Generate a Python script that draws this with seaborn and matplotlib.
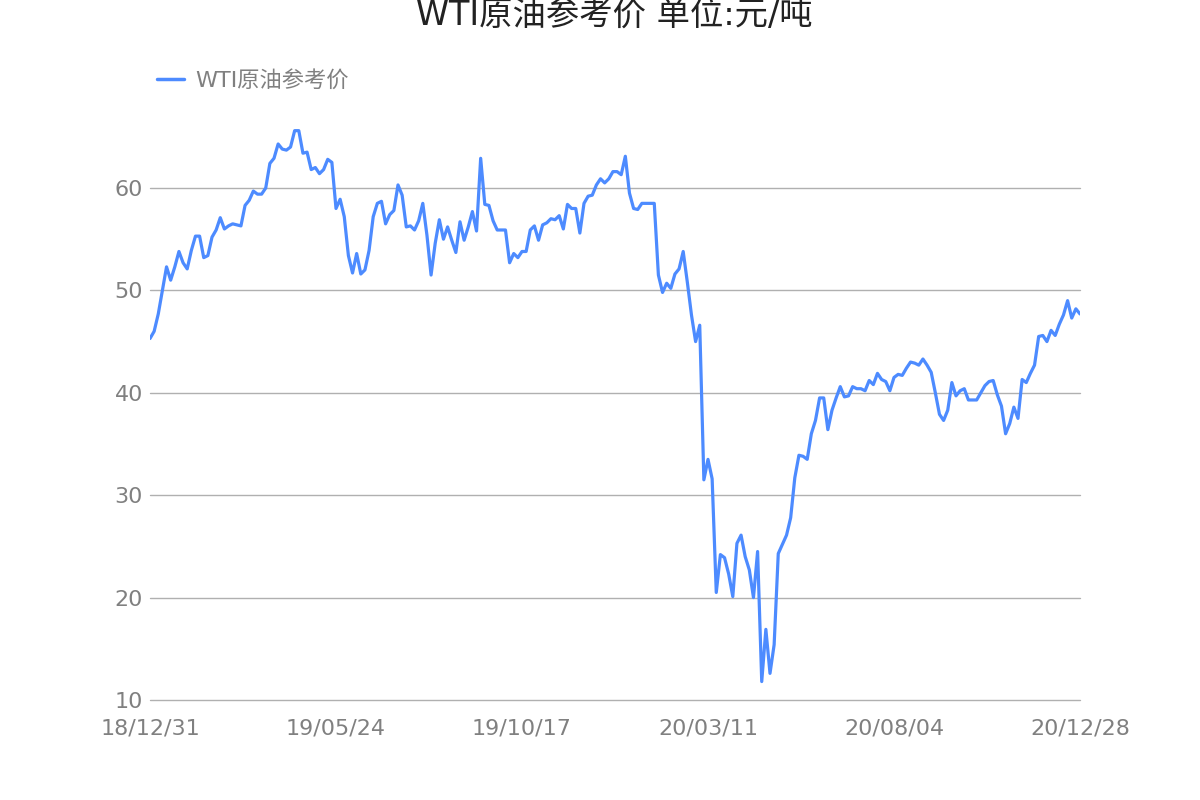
import matplotlib
matplotlib.use("Agg")
import matplotlib.pyplot as plt
import seaborn as sns
import pandas as pd

# WTI reference price (yuan/ton), sampled evenly along the category axis
values = [
    45.3, 46.0, 47.7, 50.0, 52.3, 51.0, 52.3, 53.8, 52.7, 52.1,
    53.9, 55.3, 55.3, 53.2, 53.4, 55.2, 55.9, 57.1, 56.0, 56.3,
    56.5, 56.4, 56.3, 58.3, 58.8, 59.7, 59.4, 59.4, 60.0, 62.4,
    62.9, 64.3, 63.8, 63.7, 64.0, 65.6, 65.6, 63.4, 63.5, 61.8,
    62.0, 61.4, 61.8, 62.8, 62.5, 58.0, 58.9, 57.2, 53.4, 51.7,
    53.6, 51.6, 52.0, 53.9, 57.2, 58.5, 58.7, 56.5, 57.4, 57.8,
    60.3, 59.3, 56.2, 56.3, 55.9, 56.8, 58.5, 55.4, 51.5, 54.6,
    56.9, 55.0, 56.2, 54.9, 53.7, 56.7, 54.9, 56.2, 57.7, 55.8,
    62.9, 58.4, 58.3, 56.8, 55.9, 55.9, 55.9, 52.7, 53.6, 53.2,
    53.8, 53.8, 55.9, 56.3, 54.9, 56.4, 56.6, 57.0, 56.9, 57.3,
    56.0, 58.4, 58.0, 58.0, 55.6, 58.5, 59.2, 59.3, 60.3, 60.9,
    60.5, 60.9, 61.6, 61.6, 61.3, 63.1, 59.5, 58.0, 57.9, 58.5,
    58.5, 58.5, 58.5, 51.5, 49.8, 50.7, 50.2, 51.6, 52.1, 53.8,
    50.8, 47.6, 45.0, 46.6, 31.5, 33.5, 31.6, 20.5, 24.2, 23.9,
    22.3, 20.1, 25.3, 26.1, 24.0, 22.7, 20.0, 24.5, 11.8, 16.9,
    12.6, 15.4, 24.3, 25.2, 26.1, 27.8, 31.7, 33.9, 33.8, 33.5,
    36.0, 37.3, 39.5, 39.5, 36.4, 38.3, 39.5, 40.6, 39.6, 39.7,
    40.6, 40.4, 40.4, 40.2, 41.2, 40.8, 41.9, 41.3, 41.1, 40.2,
    41.5, 41.8, 41.7, 42.4, 43.0, 42.9, 42.7, 43.3, 42.7, 42.0,
    40.0, 37.9, 37.3, 38.3, 41.0, 39.7, 40.2, 40.4, 39.3, 39.3,
    39.3, 40.0, 40.7, 41.1, 41.2, 39.8, 38.7, 36.0, 37.0, 38.6,
    37.5, 41.3, 41.0, 41.9, 42.7, 45.5, 45.6, 45.0, 46.1, 45.6,
    46.7, 47.6, 49.0, 47.3, 48.2, 47.7,
]
tick_positions = [0, 45, 90, 135, 180, 225]
tick_labels = ["18/12/31", "19/05/24", "19/10/17", "20/03/11", "20/08/04", "20/12/28"]
y_ticks = [10, 20, 30, 40, 50, 60]
series_name = "WTI原油参考价"
title = "WTI原油参考价 单位:元/吨"

df = pd.DataFrame({"idx": range(len(values)), "price": values, "series": series_name})

sns.set_theme(style="white")
plt.rcParams["font.family"] = ["DejaVu Sans", "Noto Sans CJK SC"]

fig = plt.figure(figsize=(12, 8), dpi=100)
ax = fig.add_axes([0.125, 0.125, 0.775, 0.768])

line_color = "#4d8bff"
sns.lineplot(data=df, x="idx", y="price", hue="series", palette=[line_color],
             linewidth=2.3, ax=ax, legend=True)

ax.set_xlim(0, len(values) - 1)
ax.set_ylim(10, 70)
ax.set_yticks(y_ticks)
ax.set_yticklabels([str(v) for v in y_ticks])
ax.set_xticks(tick_positions)
ax.set_xticklabels(tick_labels)
ax.set_xlabel("")
ax.set_ylabel("")

grey = "#808080"
ax.tick_params(axis="both", length=0, labelsize=16, colors=grey)
ax.tick_params(axis="y", pad=5)
ax.tick_params(axis="x", pad=13)
for s in ax.spines.values():
    s.set_visible(False)
ax.yaxis.grid(True, color="#b0b0b0", linewidth=1)
for gl in ax.get_ygridlines():
    gl.set_clip_on(False)
ax.xaxis.grid(False)

leg = ax.legend(loc="center left", bbox_to_anchor=(157 / 1200, 1 - 80 / 800),
                bbox_transform=fig.transFigure, frameon=False, fontsize=16,
                handlelength=1.2, handletextpad=0.5, borderaxespad=0, borderpad=0)
for t in leg.get_texts():
    t.set_color(grey)
for h in leg.get_lines():
    h.set_linewidth(2.5)

fig.text(0.512, 1 - 15 / 800, title, ha="center", va="center", fontsize=24, color="#222222")

fig.savefig("out.png", dpi=100)
